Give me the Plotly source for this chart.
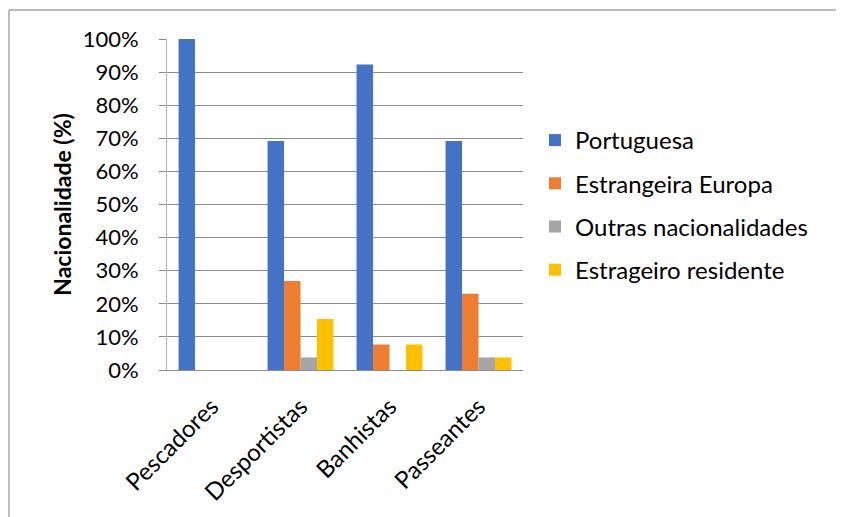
import plotly.graph_objects as go

categories = ["Pescadores", "Desportistas", "Banhistas", "Passeantes"]
series_names = ["Portuguesa", "Estrangeira Europa", "Outras nacionalidades", "Estrageiro residente"]
portuguesa = [1.00, 0.692, 0.923, 0.692]
estrangeira_europa = [0.0, 0.269, 0.077, 0.230]
outras = [0.0, 0.038, 0.0, 0.038]
residente = [0.0, 0.154, 0.077, 0.038]
colors = ["#4472C4", "#ED7D31", "#A5A5A5", "#FFC000"]
y_ticks = [0, 0.1, 0.2, 0.3, 0.4, 0.5, 0.6, 0.7, 0.8, 0.9, 1.0]

FONT = "Lato, Carlito, Calibri, sans-serif"

fig = go.Figure()
for name, vals, col in zip(series_names, [portuguesa, estrangeira_europa, outras, residente], colors):
    fig.add_trace(go.Bar(x=categories, y=vals, name=name, marker=dict(color=col, line=dict(width=0)),
                         legendgroup=name))

# page offset of 8px (body margin) is compensated
OFF = 8
L, T = 167 - OFF, 39 - OFF
pw, ph = 356, 331
W, H = 844 - OFF, 517 - OFF
R = W - L - pw
B = H - T - ph

def px(x):
    return (x - OFF - L) / pw

def py(y):
    return (H - B - (y - OFF)) / ph

border = dict(color="#a6a6a6", width=1.5)
fig.update_layout(
    width=W, height=H,
    margin=dict(l=L, r=R, t=T, b=B),
    paper_bgcolor="white", plot_bgcolor="white",
    barmode="group", bargap=0.26, bargroupgap=0,
    font=dict(family=FONT, size=22, color="#000000"),
    legend=dict(x=px(535), y=py(118), xanchor="left", yanchor="top",
                font=dict(size=24), tracegroupgap=9, bgcolor="rgba(0,0,0,0)"),
    showlegend=True,
    shapes=[
        dict(type="line", xref="paper", yref="paper", x0=px(9), x1=px(860), y0=py(10), y1=py(10),
             line=border, layer="below"),
        dict(type="line", xref="paper", yref="paper", x0=px(9), x1=px(9), y0=py(10), y1=py(530),
             line=border, layer="below"),
    ],
)
fig.update_yaxes(range=[0, 1], tickvals=y_ticks, tickformat=".0%",
                 showgrid=True, gridcolor="#8c8c8c", gridwidth=1,
                 showline=True, linecolor="#b4b4b4", linewidth=1,
                 ticks="outside", ticklen=7, tickcolor="#8c8c8c",
                 ticklabelstandoff=16, zeroline=False,
                 tickfont=dict(size=22),
                 title=dict(text="<b>Nacionalidade (%)</b>", font=dict(size=23), standoff=4))
fig.update_xaxes(showline=True, linecolor="#8c8c8c", linewidth=1, ticks="",
                 tickangle=-45, tickfont=dict(size=24), ticklabelstandoff=12)

fig.write_html("out.html")
